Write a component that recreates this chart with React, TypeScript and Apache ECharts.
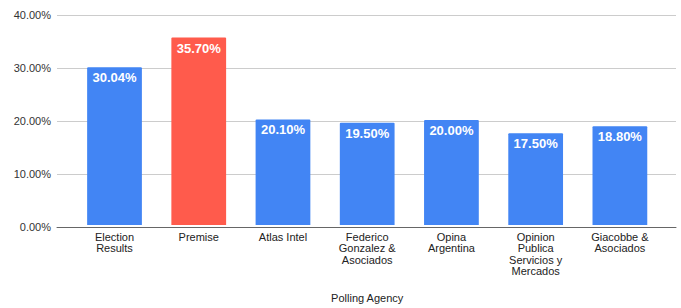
import React, { useEffect, useRef } from "react";
import * as echarts from "echarts";

const categories = [
  "Election\nResults",
  "Premise",
  "Atlas Intel",
  "Federico\nGonzalez &\nAsociados",
  "Opina\nArgentina",
  "Opinion\nPublica\nServicios y\nMercados",
  "Giacobbe &\nAsociados",
];
const values = [30.04, 35.7, 20.1, 19.5, 20.0, 17.5, 18.8];
const highlightIndex = 1;
const yTicks = [0, 10, 20, 30, 40];
const xTitle = "Polling Agency";

const FONT = '"Liberation Sans", Arial, sans-serif';

export default function App() {
  const ref = useRef<HTMLDivElement>(null);
  useEffect(() => {
    if (!ref.current) return;
    const chart = echarts.init(ref.current, null, { renderer: "svg" });
    const yMax = yTicks[yTicks.length - 1];
    chart.setOption({
      animation: false,
      textStyle: { fontFamily: FONT },
      grid: [
        { left: 57, right: 5, top: 15, bottom: 81 },
        { left: 72.4, width: 589.6, top: 15, bottom: 81 },
      ],
      xAxis: [
        {
          gridIndex: 0,
          type: "value",
          min: 0,
          max: 1,
          axisLine: { show: true, onZero: false, lineStyle: { color: "#666", width: 1 } },
          axisTick: { show: false },
          axisLabel: { show: false },
          splitLine: { show: false },
        },
        {
          gridIndex: 1,
          type: "category",
          data: categories,
          axisLine: { show: false },
          axisTick: { show: false },
          axisLabel: {
            interval: 0,
            color: "#222",
            fontSize: 11,
            lineHeight: 11.5,
            margin: 6,
            fontFamily: FONT,
          },
          name: xTitle,
          nameLocation: "middle",
          nameGap: 67,
          nameTextStyle: { color: "#222", fontSize: 11, fontFamily: FONT },
        },
      ],
      yAxis: [
        {
          gridIndex: 0,
          type: "value",
          min: 0,
          max: yMax,
          interval: 10,
          axisLine: { show: false },
          axisTick: { show: false },
          axisLabel: {
            color: "#333",
            fontSize: 11,
            margin: 6,
            fontFamily: FONT,
            formatter: (v: number) => v.toFixed(2) + "%",
          },
          splitLine: { show: true, lineStyle: { color: "#ccc", width: 1 } },
        },
        {
          gridIndex: 1,
          type: "value",
          min: 0,
          max: yMax,
          interval: 10,
          axisLine: { show: false },
          axisTick: { show: false },
          axisLabel: { show: false },
          splitLine: { show: false },
        },
      ],
      series: [
        {
          type: "bar",
          xAxisIndex: 1,
          yAxisIndex: 1,
          barCategoryGap: "35%",
          data: values.map((v, i) => ({
            value: v,
            itemStyle: {
              color: i === highlightIndex ? "#ff5b4c" : "#4285f4",
              borderRadius: [1, 1, 0, 0],
            },
          })),
          label: {
            show: true,
            position: "insideTop",
            distance: 4,
            color: "#fff",
            fontWeight: "bold",
            fontSize: 13,
            fontFamily: FONT,
            formatter: (p: any) => Number(p.value).toFixed(2) + "%",
          },
        },
      ],
    });
    return () => chart.dispose();
  }, []);
  return (
    <div
      ref={ref}
      style={{ position: "fixed", left: 0, top: 0, width: 681, height: 308, background: "#fff" }}
    />
  );
}
